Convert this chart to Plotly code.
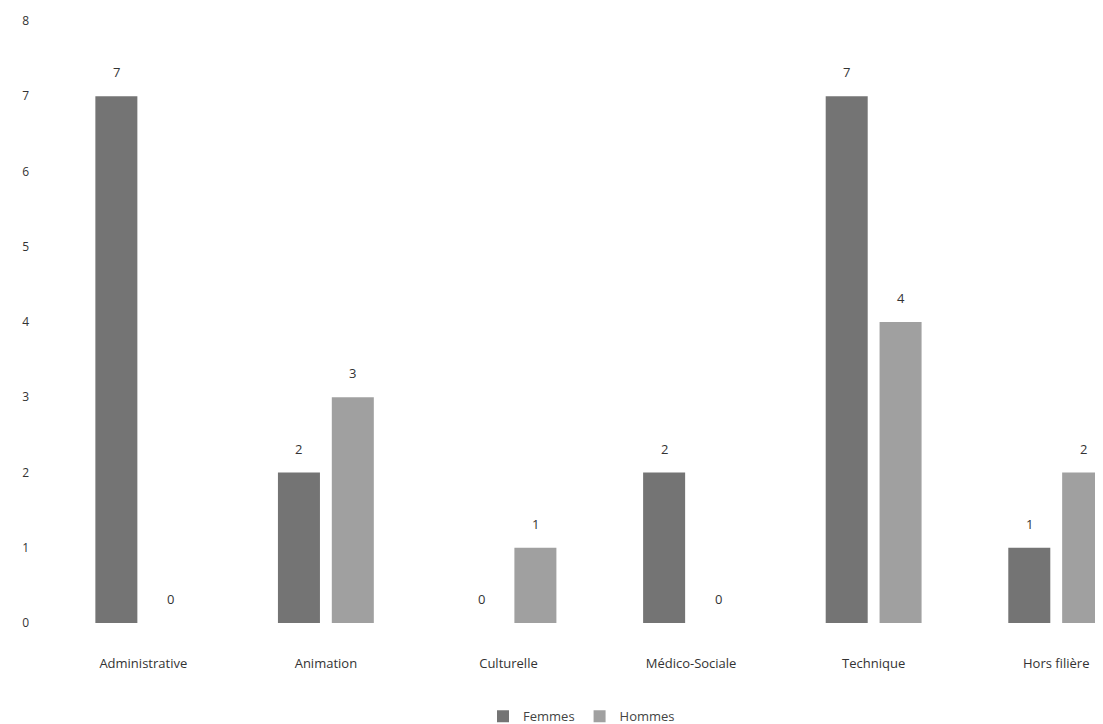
import plotly.graph_objects as go

categories = ["Administrative", "Animation", "Culturelle", "Médico-Sociale", "Technique", "Hors filière"]
femmes = [7, 2, 0, 2, 7, 1]
hommes = [0, 3, 1, 0, 4, 2]
y_ticks = [0, 1, 2, 3, 4, 5, 6, 7, 8]

font_family = "Open Sans, Liberation Sans, sans-serif"

fig = go.Figure()
fig.add_trace(go.Bar(
    name="Femmes", x=categories, y=femmes, offsetgroup="f",
    marker=dict(color="#747474", line=dict(width=0)),
))
fig.add_trace(go.Bar(
    name="Hommes", x=categories, y=hommes, offsetgroup="h",
    marker=dict(color="#a0a0a0", line=dict(width=0)),
))

# value labels placed through the axes (category + value), shifted above bar tops
for c, v in zip(categories, femmes):
    fig.add_annotation(x=c, y=v, xref="x", yref="y", text=str(v), showarrow=False,
                       xshift=-27, yshift=24, font=dict(size=13, color="#333333"))
for c, v in zip(categories, hommes):
    fig.add_annotation(x=c, y=v, xref="x", yref="y", text=str(v), showarrow=False,
                       xshift=27, yshift=24, font=dict(size=13, color="#333333"))

fig.update_layout(
    width=1103, height=724,
    margin=dict(l=44, r=0, t=13, b=109),
    paper_bgcolor="white", plot_bgcolor="white",
    barmode="group", bargap=0.41, bargroupgap=0.22,
    font=dict(family=font_family, size=12, color="#333333"),
    showlegend=True,
    legend=dict(orientation="h", x=0.5, xanchor="center", y=-0.155, yanchor="middle",
                font=dict(size=13, color="#444444"), itemwidth=30),
)
fig.update_xaxes(
    type="category", range=[-0.5, 5.3],
    showline=False, showgrid=False, ticks="", ticklabelstandoff=31,
    tickfont=dict(size=13, color="#333333"),
)
fig.update_yaxes(
    range=[0, 8], tickvals=y_ticks, showgrid=False, zeroline=False, showline=False,
    ticks="", ticklabelstandoff=22, tickfont=dict(size=12, color="#333333"),
)

fig.write_html("out.html")
